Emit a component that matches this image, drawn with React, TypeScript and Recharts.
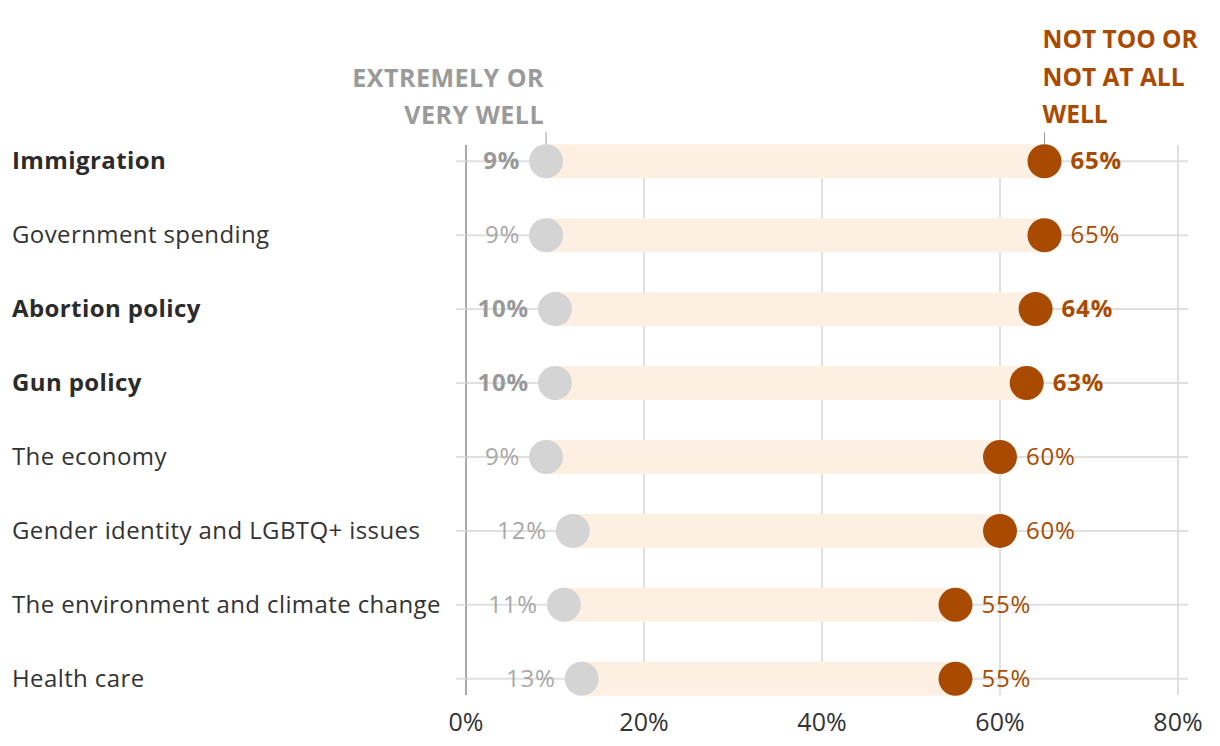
import React from 'react';
import { ComposedChart, Bar, Line, XAxis, YAxis, CartesianGrid, ReferenceLine } from 'recharts';

const categories = [
  'Immigration',
  'Government spending',
  'Abortion policy',
  'Gun policy',
  'The economy',
  'Gender identity and LGBTQ+ issues',
  'The environment and climate change',
  'Health care',
];
const wellValues = [9, 9, 10, 10, 9, 12, 11, 13];
const notWellValues = [65, 65, 64, 63, 60, 60, 55, 55];
const boldCategories = ['Immigration', 'Abortion policy', 'Gun policy'];
const xTicks = [0, 20, 40, 60, 80];
const rowTicks = categories.map((_, i) => i);
const wellHeader = ['EXTREMELY OR', 'VERY WELL'];
const notWellHeader = ['NOT TOO OR', 'NOT AT ALL', 'WELL'];

const FONT = '"Open Sans", "Noto Sans", sans-serif';
const GREY_DOT = '#d4d4d4';
const ORANGE = '#a84b00';
const PEACH = '#fdf0e3';
const GRID = '#e0e0e0';

const data = categories.map((name, i) => ({
  idx: i,
  name,
  well: wellValues[i],
  notWell: notWellValues[i],
  range: [wellValues[i], notWellValues[i]],
  bold: boldCategories.includes(name),
}));

const CategoryTick = ({ y, payload }: any) => {
  const row = data[payload.value];
  if (!row) return null;
  return (
    <text x={12} y={y} dy={8} textAnchor="start" fontFamily={FONT} fontSize={24} letterSpacing={0.4}
      fontWeight={row.bold ? 700 : 400} fill={row.bold ? '#2b2b2b' : '#333'}>
      {row.name}
    </text>
  );
};

const PercentTick = ({ x, y, payload }: any) => (
  <text x={x} y={y} dy={28} textAnchor="middle" fontFamily={FONT} fontSize={25} fill="#333">
    {`${payload.value}%`}
  </text>
);

const WellDot = ({ cx, cy, index, payload }: any) => (
  <g key={`w-${index}`}>
    <circle cx={cx} cy={cy} r={17} fill={GREY_DOT} />
    <text x={cx - 26} y={cy} dy={8} textAnchor="end" fontFamily={FONT} fontSize={24} letterSpacing={0.8}
      fontWeight={payload.bold ? 700 : 400} fill={payload.bold ? '#999' : '#a8a8a8'}>
      {`${payload.well}%`}
    </text>
    {index === 0 && (
      <g>
        <line x1={cx} x2={cx} y1={cy - 29} y2={cy - 17} stroke="#999" strokeWidth={1} />
        {wellHeader.map((t, k) => (
          <text key={t} x={cx - 2} y={cy - 74 + k * 37} textAnchor="end" fontFamily={FONT}
            fontSize={25} letterSpacing={0.5} fontWeight={700} fill="#9a9a9a">{t}</text>
        ))}
      </g>
    )}
  </g>
);

const NotWellDot = ({ cx, cy, index, payload }: any) => (
  <g key={`n-${index}`}>
    <circle cx={cx} cy={cy} r={17} fill={ORANGE} />
    <text x={cx + 26} y={cy} dy={8} textAnchor="start" fontFamily={FONT} fontSize={24} letterSpacing={0.8}
      fontWeight={payload.bold ? 700 : 400} fill={ORANGE}>
      {`${payload.notWell}%`}
    </text>
    {index === 0 && (
      <g>
        <line x1={cx} x2={cx} y1={cy - 29} y2={cy - 17} stroke="#999" strokeWidth={1} />
        {notWellHeader.map((t, k) => (
          <text key={t} x={cx - 2} y={cy - 113 + k * 37.5} textAnchor="start" fontFamily={FONT}
            fontSize={24.5} fontWeight={700} fill={ORANGE}>{t}</text>
        ))}
      </g>
    )}
  </g>
);

export default function App() {
  return (
    <div style={{ position: 'absolute', left: 0, top: 0, background: '#fff' }}>
      <ComposedChart width={1220} height={746} data={data} layout="vertical"
        margin={{ top: 145, right: 32, bottom: 0, left: 0 }}>
        <CartesianGrid stroke={GRID} strokeWidth={2} syncWithTicks />
        <XAxis type="number" domain={[0, 80]} ticks={xTicks} padding={{ left: 0, right: 10 }}
          axisLine={false} tickLine={false} tick={<PercentTick />} height={51} />
        <YAxis type="number" dataKey="idx" domain={[-0.22, 7.22]} ticks={rowTicks}
          width={466} axisLine={false} tickSize={10} tickLine={{ stroke: GRID, strokeWidth: 2 }}
          tick={<CategoryTick />} interval={0} />
        <ReferenceLine x={0} stroke="#aaa" strokeWidth={2} />
        <Bar dataKey="range" barSize={34} fill={PEACH} isAnimationActive={false} />
        <Line dataKey="well" stroke="none" dot={WellDot} activeDot={false} isAnimationActive={false} />
        <Line dataKey="notWell" stroke="none" dot={NotWellDot} activeDot={false} isAnimationActive={false} />
      </ComposedChart>
    </div>
  );
}
